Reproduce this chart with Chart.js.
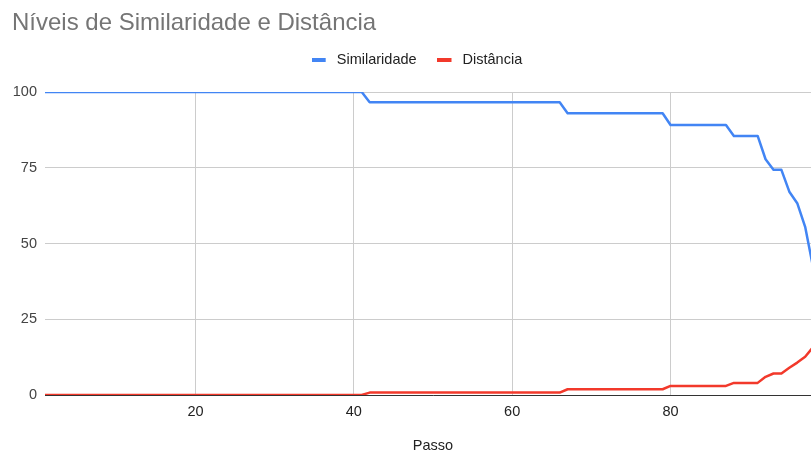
<!DOCTYPE html>
<html>
<head>
<meta charset="utf-8">
<script src="https://cdn.jsdelivr.net/npm/chart.js@4"></script>
<style>
  html, body { margin: 0; padding: 0; background: #fff; overflow: hidden; }
  #wrap { width: 834px; height: 456px; }
</style>
</head>
<body>
<div id="wrap"><canvas id="c" width="834" height="456"></canvas></div>
<script>
// Passo (x) for each measurement
const passos = [
  1, 2, 3, 4, 5, 6, 7, 8, 9, 10, 11, 12, 13, 14, 15, 16, 17, 18, 19, 20,
  21, 22, 23, 24, 25, 26, 27, 28, 29, 30, 31, 32, 33, 34, 35, 36, 37, 38, 39, 40,
  41, 42, 43, 44, 45, 46, 47, 48, 49, 50, 51, 52, 53, 54, 55, 56, 57, 58, 59, 60,
  61, 62, 63, 64, 65, 66, 67, 68, 69, 70, 71, 72, 73, 74, 75, 76, 77, 78, 79, 80,
  81, 82, 83, 84, 85, 86, 87, 88, 89, 90, 91, 92, 93, 94, 95, 96, 97, 98
];

// Similaridade (%) per passo
const similaridade = [
  100, 100, 100, 100, 100, 100, 100, 100, 100, 100, 100, 100, 100, 100, 100, 100, 100, 100, 100, 100,
  100, 100, 100, 100, 100, 100, 100, 100, 100, 100, 100, 100, 100, 100, 100, 100, 100, 100, 100, 100,
  100, 96.6, 96.6, 96.6, 96.6, 96.6, 96.6, 96.6, 96.6, 96.6, 96.6, 96.6, 96.6, 96.6, 96.6, 96.6, 96.6, 96.6, 96.6, 96.6,
  96.6, 96.6, 96.6, 96.6, 96.6, 96.6, 93, 93, 93, 93, 93, 93, 93, 93, 93, 93, 93, 93, 93, 89.1,
  89.1, 89.1, 89.1, 89.1, 89.1, 89.1, 89.1, 85.5, 85.5, 85.5, 85.5, 77.8, 74.3, 74.3, 67.1, 63.3, 55.5, 42.2
];

// Distância per passo
const distancia = [
  0, 0, 0, 0, 0, 0, 0, 0, 0, 0, 0, 0, 0, 0, 0, 0, 0, 0, 0, 0,
  0, 0, 0, 0, 0, 0, 0, 0, 0, 0, 0, 0, 0, 0, 0, 0, 0, 0, 0, 0,
  0, 0.8, 0.8, 0.8, 0.8, 0.8, 0.8, 0.8, 0.8, 0.8, 0.8, 0.8, 0.8, 0.8, 0.8, 0.8, 0.8, 0.8, 0.8, 0.8,
  0.8, 0.8, 0.8, 0.8, 0.8, 0.8, 1.9, 1.9, 1.9, 1.9, 1.9, 1.9, 1.9, 1.9, 1.9, 1.9, 1.9, 1.9, 1.9, 3,
  3, 3, 3, 3, 3, 3, 3, 4, 4, 4, 4, 6, 7.1, 7.1, 9, 10.7, 12.6, 15.8
];

// Axis tick values
const xTicks = [20, 40, 60, 80];
const yTicks = [0, 25, 50, 75, 100];

const FONT = '"Liberation Sans", Arial, sans-serif';
const BLUE = '#4285F4';
const RED = '#F2392B';

// Legend swatch: a short flat bar in the series colour
function swatch(color) {
  const cv = document.createElement('canvas');
  cv.width = 17;
  cv.height = 4;
  const g = cv.getContext('2d');
  g.fillStyle = color;
  g.fillRect(0, 0, 14, 4);
  return cv;
}

const toPoints = (ys) => passos.map((p, i) => ({ x: p, y: ys[i] }));

new Chart(document.getElementById('c'), {
  type: 'line',
  data: {
    datasets: [
      {
        label: 'Similaridade',
        data: toPoints(similaridade),
        borderColor: BLUE,
        backgroundColor: BLUE,
        borderWidth: 2.5,
        borderJoinStyle: 'round',
        pointRadius: 0,
        pointStyle: swatch(BLUE),
        tension: 0
      },
      {
        label: 'Distância',
        data: toPoints(distancia),
        borderColor: RED,
        backgroundColor: RED,
        borderWidth: 2.5,
        borderJoinStyle: 'round',
        pointRadius: 0,
        pointStyle: swatch(RED),
        tension: 0
      }
    ]
  },
  options: {
    responsive: false,
    animation: false,
    layout: { padding: { left: 12, right: 13, top: 0, bottom: 0 } },
    plugins: {
      title: {
        display: true,
        text: 'Níveis de Similaridade e Distância',
        align: 'start',
        color: '#757575',
        font: { family: FONT, size: 24, weight: 'normal', lineHeight: 0.8 },
        padding: { top: 14, bottom: 0 }
      },
      // spacer between the legend and the plot area
      subtitle: {
        display: true,
        text: '',
        weight: 500,
        font: { size: 10, lineHeight: 1.2 },
        padding: { top: 2.3, bottom: 0 }
      },
      legend: {
        display: true,
        position: 'top',
        labels: {
          color: '#222',
          font: { family: FONT, size: 14.5 },
          usePointStyle: true,
          pointStyleWidth: 18.75,
          padding: 20
        }
      },
      tooltip: { enabled: false }
    },
    scales: {
      x: {
        type: 'linear',
        min: 1,
        max: 99,
        afterBuildTicks: (scale) => { scale.ticks = xTicks.map(v => ({ value: v })); },
        afterFit: (scale) => { scale.height = 61; },
        grid: { color: '#cccccc', lineWidth: 1, drawTicks: false },
        border: { display: true, color: '#333333', width: 1 },
        ticks: {
          color: '#222',
          font: { family: FONT, size: 14.5 },
          padding: 8,
          maxRotation: 0
        },
        title: {
          display: true,
          text: 'Passo',
          color: '#222',
          font: { family: FONT, size: 14.5 },
          padding: { top: 0, bottom: 1.5 }
        }
      },
      y: {
        min: 0,
        max: 100,
        afterBuildTicks: (scale) => { scale.ticks = yTicks.map(v => ({ value: v })); },
        afterFit: (scale) => { scale.width = 33; },
        grid: { color: '#cccccc', lineWidth: 1, drawTicks: false },
        border: { display: false },
        ticks: {
          color: '#444',
          font: { family: FONT, size: 14.5 },
          padding: 8
        }
      }
    }
  }
});
</script>
</body>
</html>
